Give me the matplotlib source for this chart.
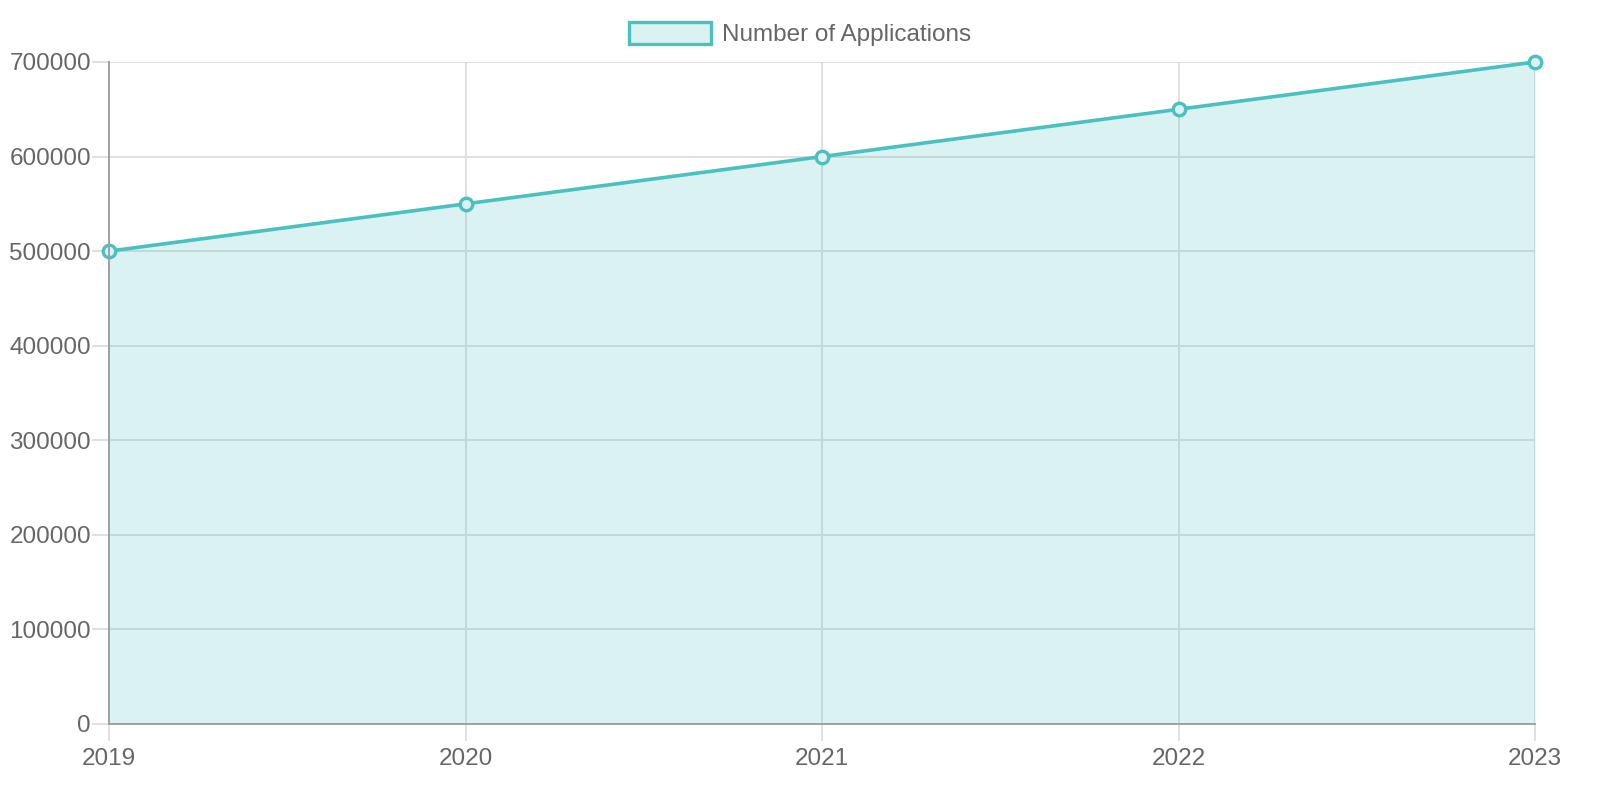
import matplotlib
matplotlib.use("Agg")
import matplotlib.pyplot as plt
from matplotlib.patches import Patch

years = [2019, 2020, 2021, 2022, 2023]
applications = [500000, 550000, 600000, 650000, 700000]
y_ticks = [0, 100000, 200000, 300000, 400000, 500000, 600000, 700000]
series_label = "Number of Applications"

LINE = "#4bc0c0"
FILL = (75 / 255, 192 / 255, 192 / 255, 0.2)
TXT = "#666666"
GRID = "#e0e0e0"

plt.rcParams["font.family"] = ["Liberation Sans", "DejaVu Sans"]

fig = plt.figure(figsize=(16, 8), dpi=100)
ax = fig.add_axes([109 / 1600, 76 / 800, 1426 / 1600, 662 / 800])

ax.fill_between(years, applications, 0, color=FILL, linewidth=0, zorder=2)
ax.plot(years, applications, color=LINE, linewidth=2.6, zorder=3,
        marker="o", markersize=9, markerfacecolor=(0.86, 0.95, 0.95),
        markeredgecolor=LINE, markeredgewidth=2.4, clip_on=False)

ax.set_xlim(years[0], years[-1])
ax.set_ylim(0, 700000)
ax.set_xticks(years)
ax.set_xticklabels([str(y) for y in years])
ax.set_yticks(y_ticks)
ax.set_yticklabels([str(v) for v in y_ticks])

ax.grid(True, color=GRID, linewidth=1.4, zorder=1)
ax.set_axisbelow(True)
for s in ["top", "right"]:
    ax.spines[s].set_visible(False)
for s in ["left", "bottom"]:
    ax.spines[s].set_color("#a0a0a0")
    ax.spines[s].set_linewidth(1.4)
    ax.spines[s].set_zorder(4)

ax.tick_params(axis="both", colors=GRID, labelcolor=TXT, labelsize=17.5,
               width=1.4, length=12)
ax.tick_params(axis="y", pad=1)
ax.tick_params(axis="x", pad=5)

handle = Patch(facecolor=FILL, edgecolor=LINE, linewidth=2.4, label=series_label)
fig.legend(handles=[handle], loc="upper center", bbox_to_anchor=(0.5, 1.0),
           frameon=False, fontsize=17.5, labelcolor=TXT,
           handlelength=3.4, handleheight=1.0, handletextpad=0.45,
           borderaxespad=0.5)

fig.savefig("out.png", dpi=100)
